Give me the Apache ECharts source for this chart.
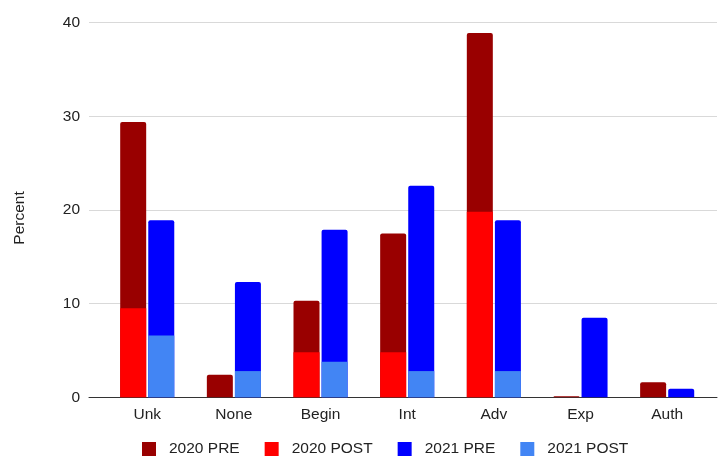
<!DOCTYPE html>
<html>
<head>
<meta charset="utf-8">
<script src="https://cdn.jsdelivr.net/npm/echarts@6/dist/echarts.min.js"></script>
<style>
  html, body { margin: 0; padding: 0; background: #fff; }
  #chart { width: 718px; height: 459px; }
</style>
</head>
<body>
<div id="chart"></div>
<script>
// Skill levels, share of respondents (%) before and after, per year
const categories = ['Unk', 'None', 'Begin', 'Int', 'Adv', 'Exp', 'Auth'];
const pre2020  = [29.4, 2.4, 10.3, 17.5, 38.9, 0, 1.6];
const post2020 = [9.5, 0, 4.8, 4.8, 19.8, 0, 0];
const pre2021  = [18.9, 12.3, 17.9, 22.6, 18.9, 8.5, 0.9];
const post2021 = [6.6, 2.8, 3.8, 2.8, 2.8, 0, 0];
const yTicks = [0, 10, 20, 30, 40];

const FONT = '"Liberation Sans", Arial, sans-serif';
const TEXT = '#222222';
const BAR_W = 26;
const BAR_GAP = '8%';

const chart = echarts.init(document.getElementById('chart'), null, { renderer: 'canvas' });

chart.setOption({
  animation: false,
  textStyle: { fontFamily: FONT },
  legend: {
    data: ['2020 PRE', '2020 POST', '2021 PRE', '2021 POST'],
    left: 142,
    top: 441,
    padding: 0,
    itemWidth: 14,
    itemHeight: 14,
    itemGap: 25,
    icon: 'rect',
    textStyle: { fontSize: 15.5, color: TEXT, fontFamily: FONT, padding: [0, 0, 0, 8] }
  },
  grid: [
    // frame for gridlines and baseline
    { left: 89, right: 1, top: 22.7, bottom: 61.7, outerBoundsMode: 'none', containLabel: false },
    // bar area, inset like the category band
    { left: 103.9, right: 7.5, top: 22.7, bottom: 61.7, outerBoundsMode: 'none', containLabel: false }
  ],
  xAxis: [
    {
      gridIndex: 0, type: 'value', min: 0, max: 1,
      axisLine: { show: true, lineStyle: { color: '#333333', width: 1 } },
      axisTick: { show: false }, axisLabel: { show: false }, splitLine: { show: false }
    },
    {
      gridIndex: 1, type: 'category', data: categories,
      axisLine: { show: false }, axisTick: { show: false },
      axisLabel: { color: TEXT, fontSize: 15.5, fontFamily: FONT, margin: 9 }
    },
    {
      gridIndex: 1, type: 'category', data: categories, show: false
    }
  ],
  yAxis: [
    {
      gridIndex: 0, type: 'value', min: yTicks[0], max: yTicks[yTicks.length - 1], interval: 10,
      name: 'Percent', nameLocation: 'middle', nameRotate: 90, nameGap: 61,
      nameTextStyle: { color: TEXT, fontSize: 15.5, fontFamily: FONT, padding: [0, 16, 0, 0] },
      axisLine: { show: false }, axisTick: { show: false },
      axisLabel: { color: TEXT, fontSize: 15.5, fontFamily: FONT, margin: 9 },
      splitLine: { show: true, lineStyle: { color: '#d9d9d9', width: 1 } }
    },
    {
      gridIndex: 1, type: 'value', min: yTicks[0], max: yTicks[yTicks.length - 1], show: false
    }
  ],
  series: [
    {
      name: '2020 PRE', type: 'bar', xAxisIndex: 1, yAxisIndex: 1,
      data: pre2020, barWidth: BAR_W, barGap: BAR_GAP, barMinHeight: 1,
      itemStyle: { color: '#990000', borderRadius: [2, 2, 0, 0] }
    },
    {
      name: '2021 PRE', type: 'bar', xAxisIndex: 1, yAxisIndex: 1,
      data: pre2021, barWidth: BAR_W, barGap: BAR_GAP,
      itemStyle: { color: '#0000ff', borderRadius: [2, 2, 0, 0] }
    },
    {
      name: '2020 POST', type: 'bar', xAxisIndex: 2, yAxisIndex: 1,
      data: post2020, barWidth: BAR_W, barGap: BAR_GAP,
      itemStyle: { color: '#ff0000' }
    },
    {
      name: '2021 POST', type: 'bar', xAxisIndex: 2, yAxisIndex: 1,
      data: post2021, barWidth: BAR_W, barGap: BAR_GAP,
      itemStyle: { color: '#4285f4' }
    }
  ]
});
</script>
</body>
</html>
